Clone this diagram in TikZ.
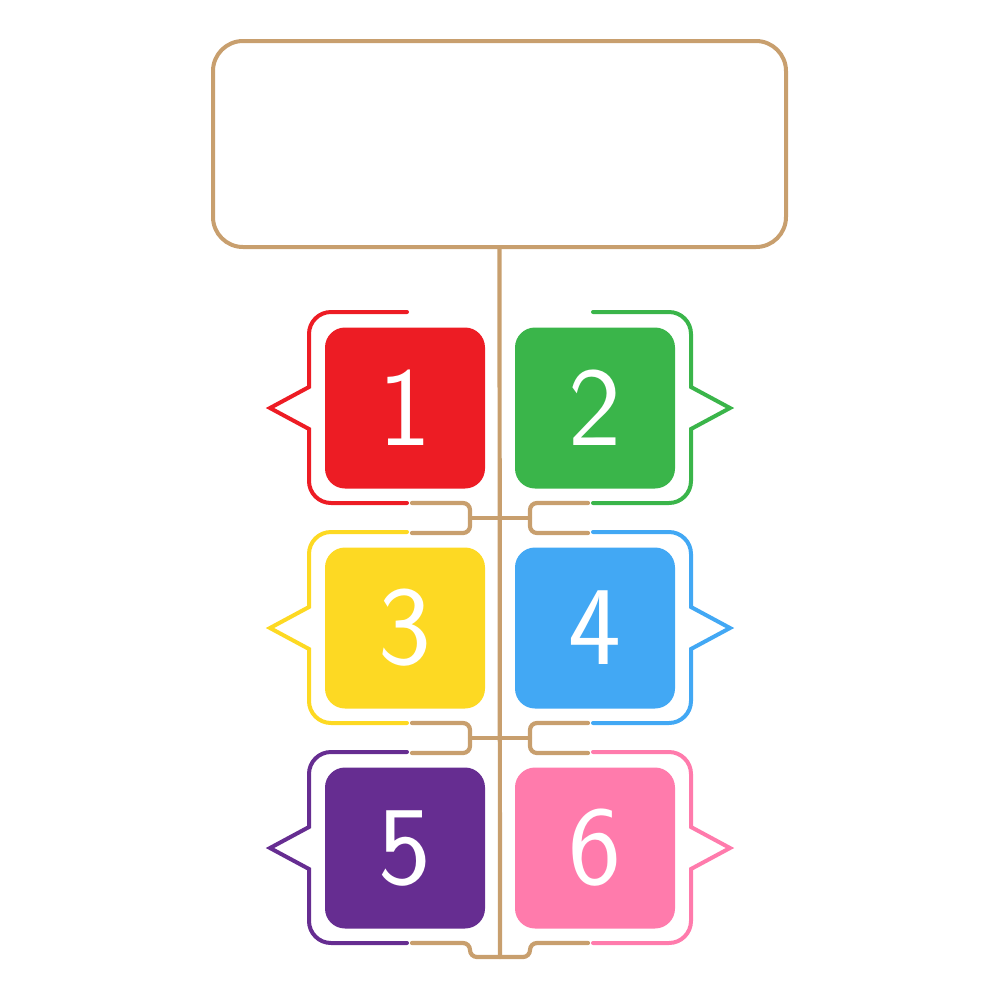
\documentclass[tikz,border=0pt]{standalone}
\usepackage{xcolor}
\usetikzlibrary{calc}
\definecolor{cTan}{HTML}{C89F6E}
\definecolor{cRed}{HTML}{ED1C24}
\definecolor{cGreen}{HTML}{3AB54A}
\definecolor{cYellow}{HTML}{FDD923}
\definecolor{cBlue}{HTML}{42A8F4}
\definecolor{cPurple}{HTML}{662D91}
\definecolor{cPink}{HTML}{FF7BAC}
\begin{document}
\begin{tikzpicture}[x=0.1mm,y=-0.1mm,line cap=round,
  sq/.style={rectangle,rounded corners=2mm,minimum width=16mm,minimum height=16.1mm,inner sep=0pt,text=white,font=\sffamily\fontsize{32}{32}\selectfont},
  bub/.style={line width=0.4mm,rounded corners=2.2mm},
  stem/.style={line width=0.42mm,draw=cTan,rounded corners=0.7mm}]
\useasboundingbox (0,0) rectangle (1000,1000);
\node[draw=cTan,line width=0.4mm,rounded corners=3mm,minimum width=57.3mm,minimum height=20.6mm] (title) at (499.5,144) {};
\node[sq,fill=cRed] (n1) at (405,408) {1};
\node[sq,fill=cGreen] (n2) at (595,408) {2};
\node[sq,fill=cYellow] (n3) at (405,628) {3};
\node[sq,fill=cBlue] (n4) at (595,628) {4};
\node[sq,fill=cPurple] (n5) at (405,848) {5};
\node[sq,fill=cPink] (n6) at (595,848) {6};
\foreach \i/\c in {1/cRed,3/cYellow,5/cPurple}{
  \draw[bub,\c] ($(n\i.center)+(2,-96)$) -- ($(n\i.center)+(-96,-96)$) [sharp corners] -- ($(n\i.center)+(-96,-21)$) -- ($(n\i.center)+(-135,0)$) -- ($(n\i.center)+(-96,21)$) [rounded corners=2.2mm] -- ($(n\i.center)+(-96,95)$) -- ($(n\i.center)+(2,95)$);}
\foreach \i/\c in {2/cGreen,4/cBlue,6/cPink}{
  \draw[bub,\c] ($(n\i.center)+(-2,-96)$) -- ($(n\i.center)+(96,-96)$) [sharp corners] -- ($(n\i.center)+(96,-21)$) -- ($(n\i.center)+(135,0)$) -- ($(n\i.center)+(96,21)$) [rounded corners=2.2mm] -- ($(n\i.center)+(96,95)$) -- ($(n\i.center)+(-2,95)$);}
\coordinate (base) at ($(n5.center)!0.5!(n6.center)+(0,109)$);
\draw[stem] (title.south) -- (base);
\foreach \i/\j in {1/2,3/4}{
  \draw[stem] ($(n\i.center)+(7,95)$) -- ($(n\i.center)+(65,95)$) -- ($(n\i.center)+(65,125)$) -- ($(n\i.center)+(7,125)$);
  \draw[stem] ($(n\j.center)+(-7,95)$) -- ($(n\j.center)+(-65,95)$) -- ($(n\j.center)+(-65,125)$) -- ($(n\j.center)+(-7,125)$);
  \draw[stem] ($(n\i.center)+(65,110)$) -- ($(n\j.center)+(-65,110)$);}
\draw[stem] ($(n5.center)+(7,95)$) -- ($(n5.center)+(65,95)$) -- ($(n5.center)+(65,109)$) -- ($(n6.center)+(-65,109)$) -- ($(n6.center)+(-65,95)$) -- ($(n6.center)+(-7,95)$);
\end{tikzpicture}
\end{document}
